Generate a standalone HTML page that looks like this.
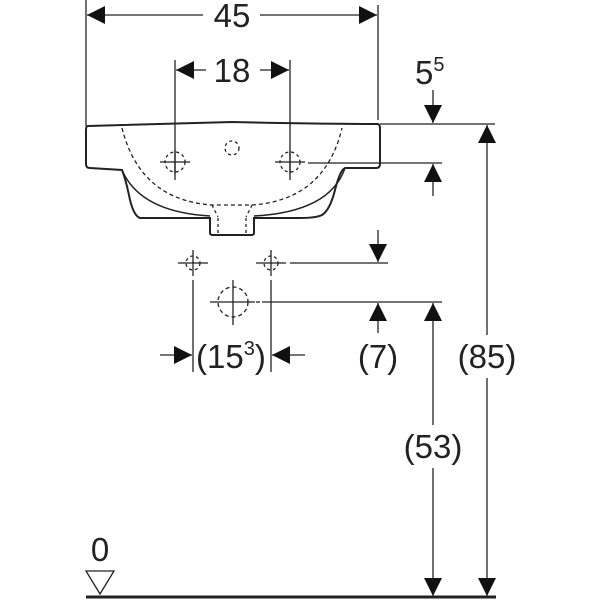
<!DOCTYPE html>
<html><head><meta charset="utf-8"><style>
html,body{margin:0;padding:0;background:#fff;}
svg{display:block}
text{font-family:"Liberation Sans",sans-serif;font-size:33px;fill:#222;}
</style></head><body>
<svg width="600" height="600" viewBox="0 0 600 600" xmlns="http://www.w3.org/2000/svg">
<defs>
<marker id="a" viewBox="0 0 10 10" refX="10" refY="5" markerWidth="18" markerHeight="18" markerUnits="userSpaceOnUse" orient="auto"><path d="M0,0L10,5L0,10z" fill="#111"/></marker>
</defs>
<g stroke="#222" stroke-width="1.3" fill="none">
<line x1="86" y1="0" x2="86" y2="126"/>
<line x1="378" y1="5" x2="378" y2="120"/>
<line x1="203" y1="15" x2="87" y2="15" marker-end="url(#a)"/>
<line x1="260" y1="15" x2="377" y2="15" marker-end="url(#a)"/>
<line x1="175" y1="60" x2="175" y2="180"/>
<line x1="290" y1="60" x2="290" y2="180"/>
<line x1="206" y1="70" x2="176" y2="70" marker-end="url(#a)"/>
<line x1="260" y1="70" x2="289" y2="70" marker-end="url(#a)"/>
<line x1="380" y1="124" x2="495" y2="124"/>
<line x1="433" y1="90" x2="433" y2="123" marker-end="url(#a)"/>
<line x1="308" y1="163" x2="442" y2="163"/>
<line x1="433" y1="196" x2="433" y2="164" marker-end="url(#a)"/>
<line x1="487" y1="335" x2="487" y2="125" marker-end="url(#a)"/>
<line x1="487" y1="378" x2="487" y2="596" marker-end="url(#a)"/>
<line x1="290" y1="263" x2="388" y2="263"/>
<line x1="378" y1="230" x2="378" y2="262" marker-end="url(#a)"/>
<line x1="262" y1="302" x2="442" y2="302"/>
<line x1="256" y1="302" x2="260" y2="302"/>
<line x1="378" y1="333" x2="378" y2="303" marker-end="url(#a)"/>
<line x1="433" y1="425" x2="433" y2="303" marker-end="url(#a)"/>
<line x1="433" y1="468" x2="433" y2="596" marker-end="url(#a)"/>
<line x1="193" y1="280" x2="193" y2="372"/>
<line x1="271" y1="280" x2="271" y2="372"/>
<line x1="160" y1="355" x2="192" y2="355" marker-end="url(#a)"/>
<line x1="305" y1="355" x2="272" y2="355" marker-end="url(#a)"/>
<path d="M88,126 Q150,124 232,122 Q320,124 378,124 Q380,125 380,128 L380,164 Q380,168 376,168 L345,168 Q340,170 335,190 Q330,210 322,215 Q316,218 300,218 L254,218 L254,233 Q254,235 251,235 L213,235 Q210,235 210,233 L210,218 L140,218 Q134,216 130,200 Q126,180 122,170 L90,168 Q86,168 86,164 L86,130 Q86,126 88,126 Z" stroke-width="2"/>
<path d="M122,170 Q140,212 210,216 M345,168 Q330,212 254,216" stroke-width="1.5"/>
<path d="M122,128 Q140,200 212,205 L252,205 Q325,200 342,128" stroke-dasharray="4,3"/>
<path d="M212,205 L218,217 M252,205 L246,217 M218,218 L218,235 M246,218 L246,235" stroke-dasharray="3,3"/>
<circle cx="232" cy="148" r="7" stroke-dasharray="3,3"/>
<circle cx="175" cy="162" r="10" stroke-dasharray="3,3"/>
<circle cx="290" cy="162" r="10" stroke-dasharray="3,3"/>
<line x1="160" y1="162" x2="190" y2="162"/><line x1="175" y1="150" x2="175" y2="174"/>
<line x1="275" y1="162" x2="305" y2="162"/><line x1="290" y1="150" x2="290" y2="174"/>
<circle cx="193" cy="263" r="7" stroke-dasharray="3,3"/>
<line x1="178" y1="263" x2="208" y2="263"/><line x1="193" y1="250" x2="193" y2="276"/>
<circle cx="271" cy="263" r="7" stroke-dasharray="3,3"/>
<line x1="256" y1="263" x2="286" y2="263"/><line x1="271" y1="250" x2="271" y2="276"/>
<circle cx="233" cy="302" r="15" stroke-dasharray="4,3"/>
<line x1="210" y1="302" x2="255" y2="302"/><line x1="233" y1="280" x2="233" y2="325"/>
<line x1="86" y1="597" x2="496" y2="597" stroke-width="3"/>
<path d="M86,571 L114,571 L100,594 Z" stroke-width="1.3"/>
</g>
<text x="232" y="27" text-anchor="middle">45</text>
<text x="232" y="82" text-anchor="middle">18</text>
<text x="415" y="84">5<tspan font-size="20" dy="-13">5</tspan></text>
<text x="487" y="368" text-anchor="middle">(85)</text>
<text x="378" y="368" text-anchor="middle">(7)</text>
<text x="433" y="458" text-anchor="middle">(53)</text>
<text x="196" y="368">(15<tspan font-size="20" dy="-13">3</tspan><tspan dy="13">)</tspan></text>
<text x="100" y="561" text-anchor="middle">0</text>
</svg>
</body></html>
